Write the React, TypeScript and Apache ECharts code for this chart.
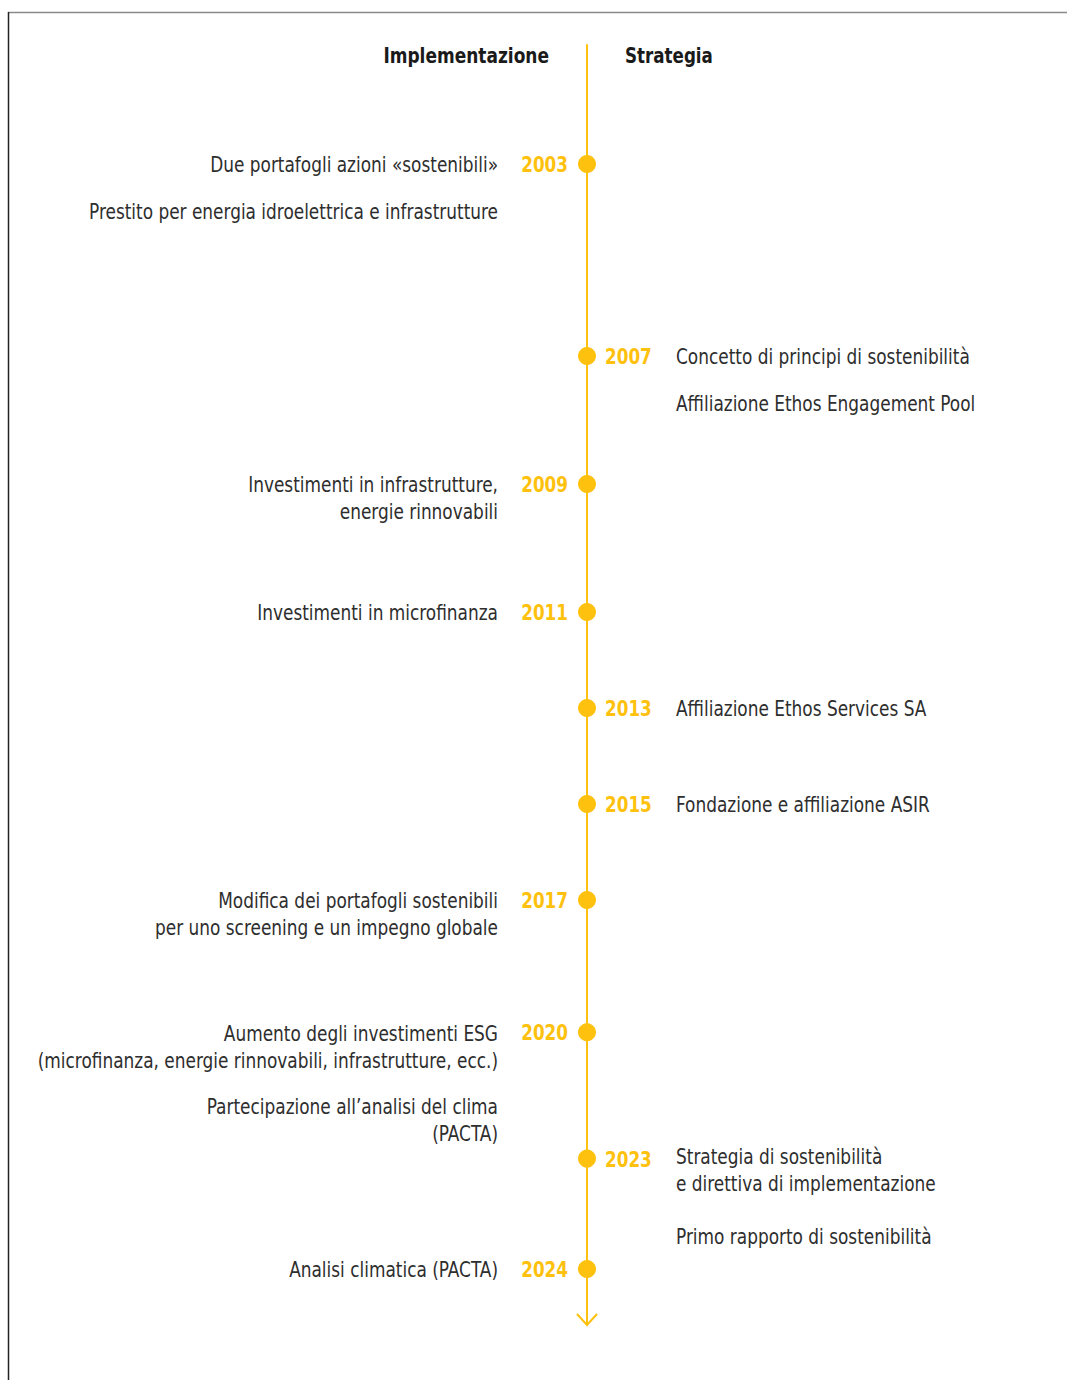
import React, { useEffect, useRef } from "react";
import * as echarts from "echarts";

// ---- data ----
const years = ["2003", "2007", "2009", "2011", "2013", "2015", "2017", "2020", "2023", "2024"];
const yearSide = ["left", "right", "left", "left", "right", "right", "left", "left", "right", "left"];
// vertical position of each milestone along the timeline (row units, 0 = top of timeline)
const yearPos = [3.72, 9.72, 13.72, 17.72, 20.72, 23.72, 26.72, 30.85, 34.8, 38.25];

const implTexts = [
  "Due portafogli azioni «sostenibili»",
  "Prestito per energia idroelettrica e infrastrutture",
  "Investimenti in infrastrutture,\nenergie rinnovabili",
  "Investimenti in microfinanza",
  "Modifica dei portafogli sostenibili\nper uno screening e un impegno globale",
  "Aumento degli investimenti ESG\n(microfinanza, energie rinnovabili, infrastrutture, ecc.)",
  "Partecipazione all’analisi del clima\n(PACTA)",
  "Analisi climatica (PACTA)",
];
const implPos = [3.72, 5.19, 13.72, 17.72, 26.72, 30.85, 33.16, 38.25];

const stratTexts = [
  "Concetto di principi di sostenibilità",
  "Affiliazione Ethos Engagement Pool",
  "Affiliazione Ethos Services SA",
  "Fondazione e affiliazione ASIR",
  "Strategia di sostenibilità\ne direttiva di implementazione",
  "Primo rapporto di sostenibilità",
];
const stratPos = [9.72, 11.19, 20.72, 23.72, 34.72, 37.22];

const headerLeft = "Implementazione";
const headerRight = "Strategia";

const FONT = "'DejaVu Sans Condensed', 'Liberation Sans Narrow', 'DejaVu Sans', sans-serif";
const YELLOW = "#FEC10E";
const TEXT = "#2e2e2e";

export default function App() {
  const ref = useRef<HTMLDivElement>(null);
  useEffect(() => {
    document.body.style.margin = "0";
    document.body.style.overflow = "hidden";
    if (!ref.current) return;
    const chart = echarts.init(ref.current, undefined, { renderer: "svg" });

    const textSeries = (texts: string[], pos: number[], side: string) => ({
      type: "custom",
      silent: true,
      data: texts.map((t, i) => [0, pos[i]]),
      renderItem: (params: any, api: any) => {
        const pt = api.coord([api.value(0), api.value(1)]);
        const left = side === "left";
        return {
          type: "text",
          x: pt[0] + (left ? -89 : 89),
          y: pt[1] - 12.5,
          scaleX: 0.897,
          style: {
            text: texts[params.dataIndex],
            align: left ? "right" : "left",
            verticalAlign: "top",
            font: `21px ${FONT}`,
            lineHeight: 27,
            fill: TEXT,
          },
        };
      },
    });

    chart.setOption({
      animation: false,
      grid: { left: 107, width: 960, top: 45, height: 1280 },
      xAxis: { type: "value", min: -1, max: 1, show: false },
      yAxis: {
        type: "value",
        inverse: true,
        min: 0,
        max: 40,
        axisLine: { show: true, onZero: true, lineStyle: { color: YELLOW, width: 2 } },
        axisTick: { show: false },
        axisLabel: { show: false },
        splitLine: { show: false },
      },
      series: [
        {
          type: "custom",
          silent: true,
          z: 5,
          data: years.map((y, i) => [0, yearPos[i]]),
          renderItem: (params: any, api: any) => {
            const pt = api.coord([api.value(0), api.value(1)]);
            const i = params.dataIndex;
            const left = yearSide[i] === "left";
            return {
              type: "group",
              children: [
                { type: "circle", shape: { cx: pt[0], cy: pt[1], r: 9 }, style: { fill: YELLOW } },
                {
                  type: "text",
                  x: pt[0] + (left ? -19 : 18),
                  y: pt[1] + 0.5,
                  scaleX: 0.85,
                  style: {
                    text: years[i],
                    align: left ? "right" : "left",
                    verticalAlign: "middle",
                    font: `bold 22px ${FONT}`,
                    fill: YELLOW,
                  },
                },
              ],
            };
          },
        },
        textSeries(implTexts, implPos, "left"),
        textSeries(stratTexts, stratPos, "right"),
      ],
    });

    const tip = chart.convertToPixel({ gridIndex: 0 }, [0, 40]) as number[];
    chart.setOption({
      graphic: [
        {
          type: "line",
          shape: { x1: 8, y1: 12.5, x2: 1067, y2: 12.5 },
          style: { stroke: "#8a8a8a", lineWidth: 1.5 },
        },
        {
          type: "line",
          shape: { x1: 8.5, y1: 12, x2: 8.5, y2: 1380 },
          style: { stroke: "#222", lineWidth: 1.5 },
        },
        {
          type: "polyline",
          shape: { points: [[tip[0] - 10, tip[1] - 11], [tip[0], tip[1]], [tip[0] + 10, tip[1] - 11]] },
          style: { stroke: YELLOW, lineWidth: 2, fill: "none" },
        },
        {
          type: "text",
          x: 549,
          y: 55,
          scaleX: 0.86,
          style: {
            text: headerLeft,
            align: "right",
            verticalAlign: "middle",
            font: `bold 22px ${FONT}`,
            fill: "#1a1a1a",
          },
        },
        {
          type: "text",
          x: 625,
          y: 55,
          scaleX: 0.845,
          style: {
            text: headerRight,
            align: "left",
            verticalAlign: "middle",
            font: `bold 22px ${FONT}`,
            fill: "#1a1a1a",
          },
        },
      ],
    });

    return () => chart.dispose();
  }, []);
  return <div ref={ref} style={{ width: 1067, height: 1380 }} />;
}
